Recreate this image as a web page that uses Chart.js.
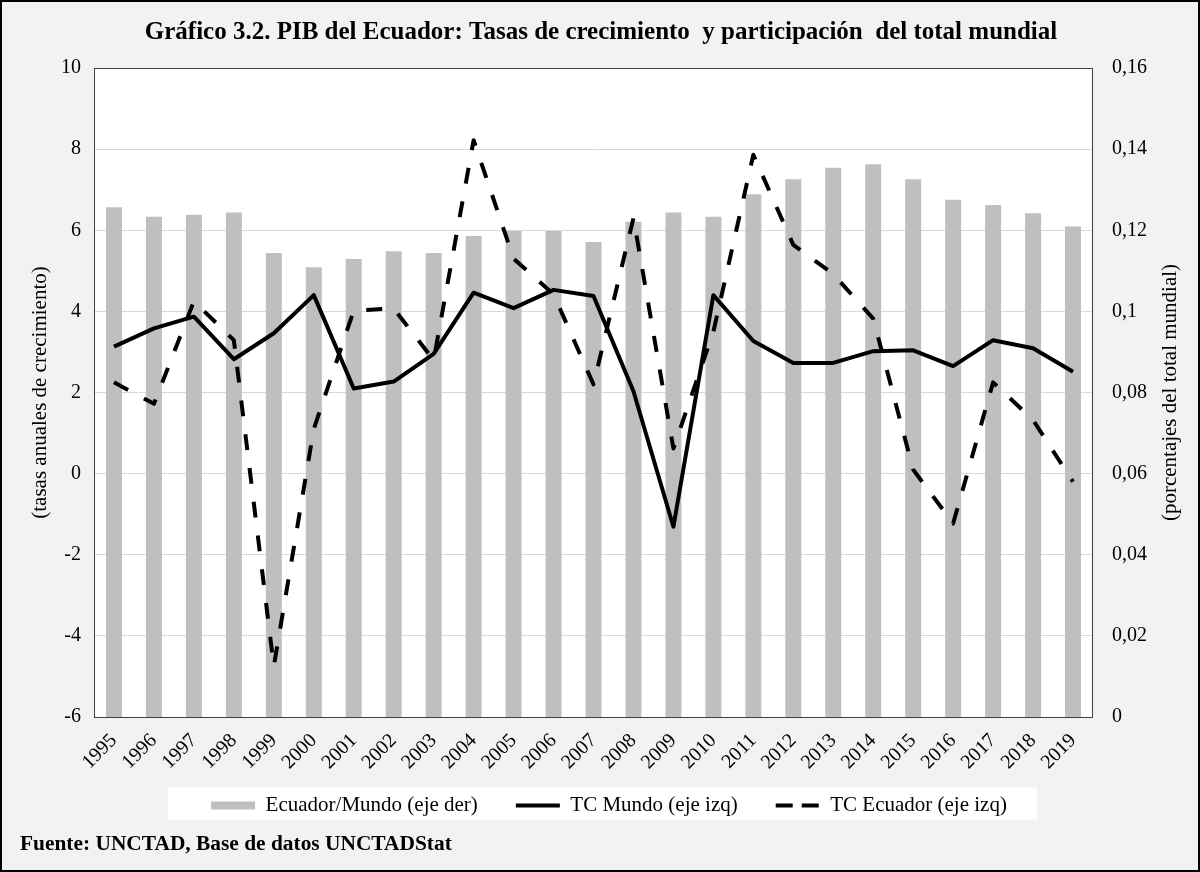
<!DOCTYPE html>
<html><head><meta charset="utf-8">
<script src="https://cdn.jsdelivr.net/npm/chart.js@4.4.0/dist/chart.umd.min.js"></script>
<style>html,body{margin:0;padding:0;background:#f2f2f2;}#wrap{width:1200px;height:872px;}</style>
</head><body><div id="wrap"><canvas id="c" width="1200" height="872"></canvas></div>
<script>
const years = ['1995','1996','1997','1998','1999','2000','2001','2002','2003','2004','2005','2006','2007','2008','2009','2010','2011','2012','2013','2014','2015','2016','2017','2018','2019'];
const shareEcuadorWorld = [0.1257,0.1233,0.1238,0.1244,0.1144,0.1109,0.1129,0.1148,0.1144,0.1186,0.1198,0.1198,0.1171,0.1221,0.1244,0.1233,0.1289,0.1326,0.1354,0.1363,0.1326,0.1275,0.1262,0.1242,0.1209];
const growthWorld = [3.13,3.58,3.87,2.82,3.46,4.40,2.10,2.27,2.95,4.46,4.08,4.53,4.38,2.03,-1.31,4.40,3.27,2.73,2.73,3.02,3.04,2.65,3.29,3.09,2.51];
const growthEcuador = [2.25,1.72,4.25,3.29,-4.75,1.10,4.02,4.07,2.80,8.22,5.30,4.42,2.20,6.30,0.62,3.50,7.86,5.64,4.92,3.82,0.10,-1.23,2.25,1.32,-0.20];
const leftMin = -6, leftMax = 10, leftStep = 2;
const rightMin = 0, rightMax = 0.16, rightStep = 0.02;
const titleText = 'Gráfico 3.2. PIB del Ecuador: Tasas de crecimiento  y participación  del total mundial';
const leftTitle = '(tasas anuales de crecimiento)';
const rightTitle = '(porcentajes del total mundial)';
const footerText = 'Fuente: UNCTAD, Base de datos UNCTADStat';
const labelsBar = 'Ecuador/Mundo (eje der)', labelsWorld = 'TC Mundo (eje izq)', labelsEcu = 'TC Ecuador (eje izq)';

const SERIF = '"Liberation Serif", "Times New Roman", serif';
Chart.defaults.font.family = SERIF;
Chart.defaults.color = '#000';
const LEGEND_DX = 9, LEGEND_DY = -22;

const frame = {
  id: 'frame',
  afterUpdate(chart) {
    const lg = chart.legend;
    if (!lg) return;
    lg.left += LEGEND_DX; lg.right += LEGEND_DX;
    lg.top += LEGEND_DY; lg.bottom += LEGEND_DY;
    (lg.legendHitBoxes || []).forEach(h => { h.left += LEGEND_DX; h.top += LEGEND_DY; });
  },
  beforeDraw(chart) {
    const ctx = chart.ctx, a = chart.chartArea;
    ctx.save();
    ctx.fillStyle = '#f2f2f2';
    ctx.fillRect(0, 0, chart.width, chart.height);
    ctx.fillStyle = '#ffffff';
    ctx.fillRect(a.left, a.top, a.right - a.left, a.bottom - a.top);
    const hb = chart.legend.legendHitBoxes;
    if (hb && hb.length) {
      let l = Infinity, r = -Infinity, t = Infinity, b = -Infinity;
      hb.forEach(h => { l = Math.min(l, h.left); r = Math.max(r, h.left + h.width); t = Math.min(t, h.top); b = Math.max(b, h.top + h.height); });
      const cy = (t + b) / 2 - 2;
      ctx.fillRect(l - 43, cy - 16, (r - l) + 73, 32);
    }
    ctx.restore();
  },
  afterDraw(chart) {
    const ctx = chart.ctx, a = chart.chartArea;
    ctx.save();
    ctx.strokeStyle = '#404040';
    ctx.lineWidth = 1;
    ctx.strokeRect(a.left + 0.5, a.top + 0.5, a.right - a.left - 1, a.bottom - a.top);
    ctx.fillStyle = '#000';
    ctx.textAlign = 'center';
    ctx.textBaseline = 'middle';
    ctx.font = 'bold 25px ' + SERIF;
    ctx.fillText(titleText, 601, 33);
    ctx.font = '21px ' + SERIF;
    const midY = (a.top + a.bottom) / 2;
    ctx.save(); ctx.translate(40, midY); ctx.rotate(-Math.PI / 2); ctx.fillText(leftTitle, 0, 0); ctx.restore();
    ctx.save(); ctx.translate(1170, midY); ctx.rotate(-Math.PI / 2); ctx.fillText(rightTitle, 0, 0); ctx.restore();
    ctx.textAlign = 'left';
    ctx.font = 'bold 21.4px ' + SERIF;
    ctx.fillText(footerText, 20, 844);
    ctx.strokeStyle = '#000';
    ctx.lineWidth = 2;
    ctx.strokeRect(1, 1, chart.width - 2, chart.height - 2);
    ctx.restore();
  }
};

const legendDash = [17, 9];

new Chart(document.getElementById('c'), {
  type: 'bar',
  data: {
    labels: years,
    datasets: [
      { type: 'bar', label: labelsBar, data: shareEcuadorWorld, yAxisID: 'y1', backgroundColor: '#bfbfbf', borderWidth: 0, barPercentage: 0.4, categoryPercentage: 1, pointStyle: 'rect', order: 3 },
      { type: 'line', label: labelsWorld, data: growthWorld, yAxisID: 'y', borderColor: '#000', backgroundColor: '#000', borderWidth: 4, pointRadius: 0, tension: 0, fill: false, pointStyle: 'line', borderCapStyle: 'butt', borderJoinStyle: 'round', order: 1 },
      { type: 'line', label: labelsEcu, data: growthEcuador, yAxisID: 'y', borderColor: '#000', backgroundColor: '#000', borderWidth: 4, borderDash: [16, 18], pointRadius: 0, tension: 0, fill: false, pointStyle: 'line', borderCapStyle: 'butt', borderJoinStyle: 'round', order: 2 }
    ]
  },
  options: {
    responsive: false,
    animation: false,
    layout: { padding: { left: 0, right: 0, top: 68, bottom: 24 } },
    plugins: {
      title: { display: false },
      tooltip: { enabled: false },
      legend: {
        position: 'bottom',
        labels: {
          usePointStyle: true, pointStyleWidth: 44, boxHeight: 8, padding: 38,
          font: { size: 21, family: SERIF }, color: '#000',
          sort: (a, b) => a.datasetIndex - b.datasetIndex,
          generateLabels(chart) {
            const items = Chart.defaults.plugins.legend.labels.generateLabels(chart);
            items.forEach(it => {
              const ds = chart.data.datasets[it.datasetIndex];
              if (ds.borderDash) { it.lineDash = legendDash; it.lineCap = 'butt'; }
            });
            return items;
          }
        }
      }
    },
    scales: {
      x: {
        grid: { display: false, drawTicks: false }, border: { display: false },
        ticks: { font: { size: 20, family: SERIF }, color: '#000', maxRotation: 45, minRotation: 45, autoSkip: false, padding: 12 },
        afterFit(s) { s.height = 62; }
      },
      y: {
        position: 'left', min: leftMin, max: leftMax,
        ticks: { stepSize: leftStep, font: { size: 20, family: SERIF }, color: '#000', padding: 13 },
        grid: { color: '#d9d9d9', lineWidth: 1, drawTicks: false }, border: { display: false },
        afterFit(s) { s.width = 94; }
      },
      y1: {
        position: 'right', min: rightMin, max: rightMax,
        ticks: { stepSize: rightStep, font: { size: 20, family: SERIF }, color: '#000', padding: 19,
          callback: v => String(parseFloat(Number(v).toFixed(2))).replace('.', ',') },
        grid: { display: false, drawTicks: false }, border: { display: false },
        afterFit(s) { s.width = 107; }
      }
    }
  },
  plugins: [frame]
});
</script></body></html>
